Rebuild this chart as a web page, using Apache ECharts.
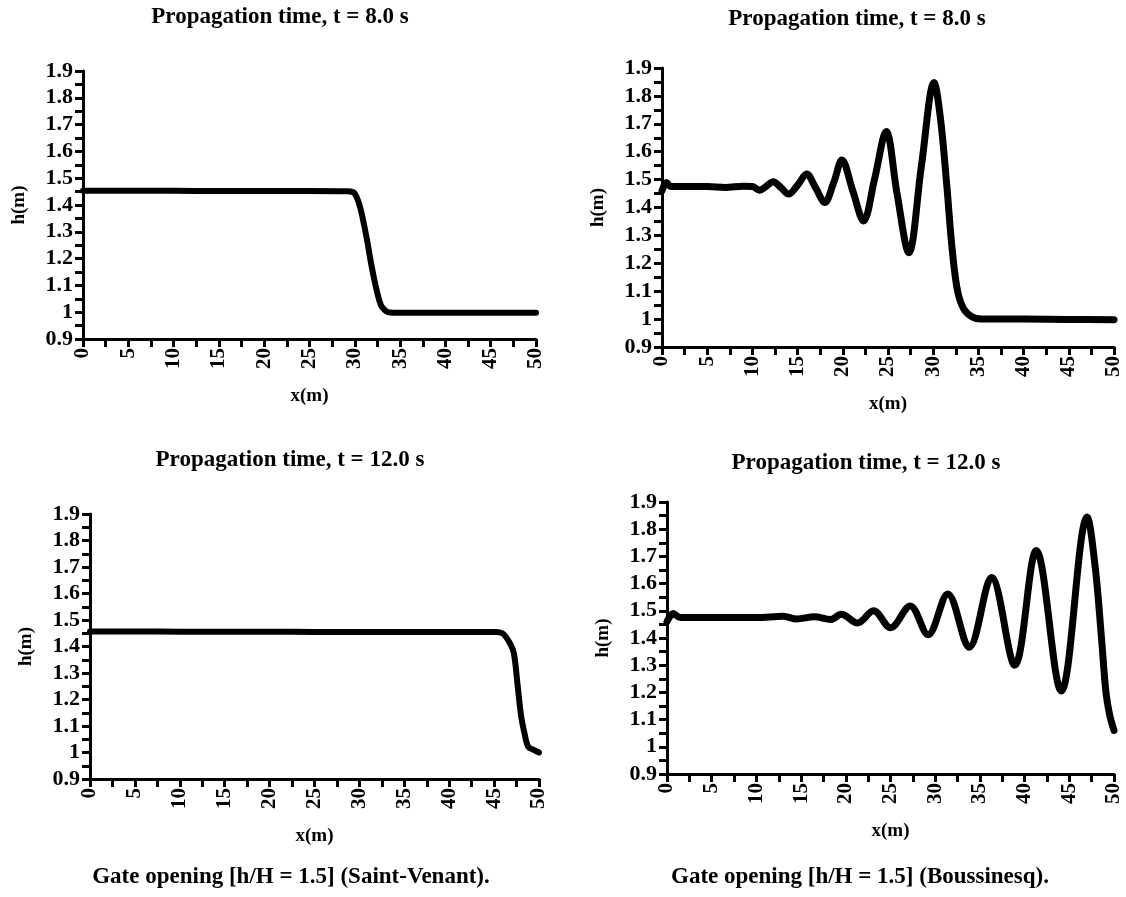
<!DOCTYPE html>
<html>
<head>
<meta charset="utf-8">
<title>Gate opening h/H = 1.5</title>
<script src="https://cdn.jsdelivr.net/npm/echarts@6/dist/echarts.min.js"></script>
<style>
  html, body { margin: 0; padding: 0; background: #fff; }
  #chart { width: 1126px; height: 897px; }
</style>
</head>
<body>
<div id="chart"></div>
<script>
// 数据: 水深 h(m) 沿 x(m) 的分布
// Saint-Venant, t = 8.0 s
var svX8 = [0, 5, 10, 15, 20, 25, 29, 29.8, 30.2, 30.6, 31, 31.4, 31.7, 32.1, 32.5, 32.9, 33.3, 33.7, 35, 40, 45, 50];
var svH8 = [1.453, 1.453, 1.453, 1.452, 1.452, 1.452, 1.451, 1.448, 1.43, 1.39, 1.33, 1.26, 1.2, 1.13, 1.07, 1.025, 1.008, 1.0, 0.998, 0.998, 0.998, 0.998];

// Boussinesq, t = 8.0 s
var bqX8 = [0, 0.5, 1, 3, 5, 7, 9, 10, 10.8, 11.5, 12.3, 13.2, 14, 15, 16, 17, 18, 19, 19.9, 21.1, 22.3, 23.5, 24.8, 26, 27.3, 28.7, 30.1, 30.8, 31.5, 32.1, 32.7, 33.4, 34.3, 35.3, 40, 45, 50];
var bqH8 = [1.46, 1.49, 1.475, 1.475, 1.475, 1.472, 1.476, 1.475, 1.462, 1.475, 1.492, 1.47, 1.448, 1.48, 1.52, 1.47, 1.418, 1.49, 1.57, 1.46, 1.352, 1.5, 1.672, 1.45, 1.238, 1.55, 1.848, 1.72, 1.48, 1.25, 1.1, 1.035, 1.008, 1.0, 1.0, 0.999, 0.998];

// Saint-Venant, t = 12.0 s
var svX12 = [0, 5, 10, 15, 20, 25, 30, 35, 40, 45.2, 46, 46.8, 47.2, 47.6, 48, 48.4, 48.8, 49.4, 50];
var svH12 = [1.457, 1.457, 1.456, 1.456, 1.456, 1.455, 1.455, 1.455, 1.455, 1.455, 1.448, 1.41, 1.375, 1.26, 1.14, 1.07, 1.022, 1.01, 1.0];

// Boussinesq, t = 12.0 s
var bqX12 = [0, 0.7, 1.5, 5, 10, 13, 14.5, 16.5, 18.3, 19.5, 21.3, 23.1, 25, 27.2, 29.2, 31.4, 33.8, 36.3, 38.9, 41.3, 44.1, 47, 47.9, 48.6, 49.1, 49.5, 50];
var bqH12 = [1.46, 1.49, 1.475, 1.475, 1.475, 1.48, 1.47, 1.478, 1.468, 1.487, 1.455, 1.5, 1.438, 1.518, 1.412, 1.562, 1.366, 1.622, 1.3, 1.722, 1.205, 1.845, 1.66, 1.4, 1.2, 1.12, 1.06];

// 刻度
var xMin = 0, xMax = 50, xStep = 5;
var yMin = 0.9, yMax = 1.9, yStep = 0.1;

var FONT = "'Liberation Serif', 'Times New Roman', serif";

function zip(xs, ys) {
    return xs.map(function (x, i) { return [x, ys[i]]; });
}

// 四个子图的位置
var grids = [
    { left: 83,  top: 71,  width: 453, height: 268 },
    { left: 662, top: 68,  width: 452, height: 279 },
    { left: 90,  top: 514, width: 449, height: 265 },
    { left: 667, top: 502, width: 447, height: 272 }
];

var axisLineStyle = { color: '#000', width: 3 };

var xAxes = grids.map(function (g, i) {
    return {
        type: 'value', gridIndex: i, min: xMin, max: xMax, interval: xStep,
        name: 'x(m)', nameLocation: 'middle', nameGap: 48,
        nameTextStyle: { fontFamily: FONT, fontWeight: 'bold', fontSize: 19, color: '#000' },
        axisLine: { show: true, lineStyle: axisLineStyle },
        axisTick: { show: true, length: 8, lineStyle: axisLineStyle },
        minorTick: { show: true, splitNumber: 2, length: 8, lineStyle: axisLineStyle },
        splitLine: { show: false },
        axisLabel: { rotate: 90, margin: 9, fontFamily: FONT, fontWeight: 'bold', fontSize: 21, color: '#000' }
    };
});

var yAxes = grids.map(function (g, i) {
    return {
        type: 'value', gridIndex: i, min: yMin, max: yMax, interval: yStep,
        name: 'h(m)', nameLocation: 'middle', nameGap: 54, nameRotate: 90,
        nameTextStyle: { fontFamily: FONT, fontWeight: 'bold', fontSize: 19, color: '#000' },
        axisLine: { show: true, lineStyle: axisLineStyle },
        axisTick: { show: true, length: 8, lineStyle: axisLineStyle },
        minorTick: { show: true, splitNumber: 2, length: 8, lineStyle: axisLineStyle },
        splitLine: { show: false },
        axisLabel: {
            margin: 10, fontFamily: FONT, fontWeight: 'bold', fontSize: 22, color: '#000',
            formatter: function (v) { return String(+v.toFixed(1)); }
        }
    };
});

var seriesData = [zip(svX8, svH8), zip(bqX8, bqH8), zip(svX12, svH12), zip(bqX12, bqH12)];
var lineWidths = [6, 7, 6, 7];

var series = seriesData.map(function (d, i) {
    return {
        type: 'line', xAxisIndex: i, yAxisIndex: i, data: d,
        showSymbol: false, smooth: 0.35,
        lineStyle: { color: '#000', width: lineWidths[i], cap: 'round', join: 'round' }
    };
});

function label(text, x, y, size) {
    return {
        type: 'text', x: x, y: y,
        style: {
            text: text, fill: '#000', align: 'center', verticalAlign: 'middle',
            font: 'bold ' + size + 'px ' + FONT
        }
    };
}

var chart = echarts.init(document.getElementById('chart'));
chart.setOption({
    backgroundColor: '#fff',
    animation: false,
    grid: grids,
    xAxis: xAxes,
    yAxis: yAxes,
    series: series,
    graphic: [
        label('Propagation time, t = 8.0 s', 280, 17, 23),
        label('Propagation time, t = 8.0 s', 857, 19, 23),
        label('Propagation time, t = 12.0 s', 290, 460, 23),
        label('Propagation time, t = 12.0 s', 866, 463, 23),
        label('Gate opening [h/H = 1.5] (Saint-Venant).', 291, 877, 23),
        label('Gate opening [h/H = 1.5] (Boussinesq).', 860, 877, 23)
    ]
});
</script>
</body>
</html>
